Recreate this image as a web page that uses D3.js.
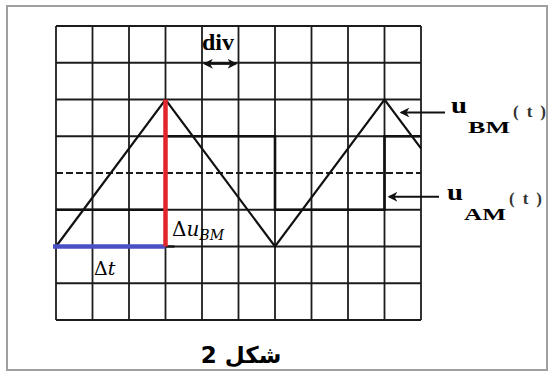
<!DOCTYPE html>
<html>
<head>
<meta charset="utf-8">
<script src="https://d3js.org/d3.v7.min.js"></script>
<style>
  body { margin: 0; background: #fff; }
  .grid line { stroke: #1c1c1c; stroke-width: 1.8px; }
  .wave { fill: none; stroke: #111; stroke-width: 2.2px; }
</style>
</head>
<body>
<svg width="553" height="373"></svg>
<script>
// screen divisions (time across, voltage up, 0 = centre line)
const xDivs = d3.range(0, 11);
const yDivs = d3.range(-4, 5);

// u_BM(t) : triangle wave, corner points
const triT = [0, 3, 6, 9, 10];
const triU = [-2, 2, -2, 2, 0.67];

// u_AM(t) : square wave, value held after each time
const sqT = [0, 3, 6, 9, 10];
const sqU = [-1, 1, -1, 1, 1];

// measurement marks
const dtT = [0, 3];      // blue  Δt
const duU = [2, -2];     // red   Δu_BM

var svg = d3.select("svg");

var x = d3.scaleLinear().domain([0, 10]).range([56, 421]);
var y = d3.scaleLinear().domain([-4, 4]).range([320, 26]);

// frame
svg.append("rect")
  .attr("x", 7).attr("y", 6).attr("width", 540).attr("height", 364)
  .attr("fill", "none").attr("stroke", "#a0a0a0").attr("stroke-width", 2);

// grid
var grid = svg.append("g").attr("class", "grid");
grid.selectAll(".v").data(xDivs).enter().append("line")
  .attr("x1", d => x(d)).attr("x2", d => x(d))
  .attr("y1", y(4)).attr("y2", y(-4));
grid.selectAll(".h").data(yDivs.filter(d => d !== 0)).enter().append("line")
  .attr("x1", x(0)).attr("x2", x(10))
  .attr("y1", d => y(d)).attr("y2", d => y(d));
// dashed centre line
grid.append("line")
  .attr("x1", x(0)).attr("x2", x(10))
  .attr("y1", y(0)).attr("y2", y(0))
  .style("stroke-dasharray", "7,3");

// waves
var tri = triT.map((t, i) => [t, triU[i]]);
svg.append("path").attr("class", "wave")
  .attr("d", d3.line().x(d => x(d[0])).y(d => y(d[1]))(tri));

var sq = sqT.map((t, i) => [t, sqU[i]]);
svg.append("path").attr("class", "wave").style("stroke-width", "2.6px")
  .attr("d", d3.line().curve(d3.curveStepAfter).x(d => x(d[0])).y(d => y(d[1]))(sq));

// Δt (blue) and Δu (red)
svg.append("line")
  .attr("x1", x(dtT[1])).attr("x2", x(dtT[1]) + 9)
  .attr("y1", y(duU[1])).attr("y2", y(duU[1]))
  .attr("stroke", "#111").attr("stroke-width", 2.2);
svg.append("line")
  .attr("x1", x(dtT[0]) - 3).attr("x2", x(dtT[1]))
  .attr("y1", y(duU[1])).attr("y2", y(duU[1]))
  .attr("stroke", "#4a4fc4").attr("stroke-width", 4.5);
svg.append("line")
  .attr("x1", x(dtT[1])).attr("x2", x(dtT[1]))
  .attr("y1", y(duU[0])).attr("y2", y(duU[1]))
  .attr("stroke", "#e0262c").attr("stroke-width", 4.5);

// arrow heads
var defs = svg.append("defs");
defs.append("marker").attr("id", "ah")
  .attr("viewBox", "0 0 10 10").attr("refX", 8).attr("refY", 5)
  .attr("markerWidth", 4.5).attr("markerHeight", 4.5).attr("orient", "auto-start-reverse")
  .append("path").attr("d", "M10,5 L0,0 L3,5 L0,10 Z").attr("fill", "#111");

function arrow(x1, x2, yy, both) {
  var l = svg.append("line")
    .attr("x1", x1).attr("x2", x2).attr("y1", yy).attr("y2", yy)
    .attr("stroke", "#111").attr("stroke-width", 2.2)
    .attr("marker-start", "url(#ah)");
  if (both) l.attr("marker-end", "url(#ah)");
}

// "div" label
svg.append("text").attr("x", 218).attr("y", 50)
  .attr("text-anchor", "middle")
  .style("font-family", "'Liberation Serif', serif").style("font-weight", "bold")
  .style("font-size", "24px").text("div");
arrow(x(4) + 3, x(5) - 3, y(3) + 1, true);

// Δ labels
var math = "'DejaVu Serif', 'Liberation Serif', serif";
var du = svg.append("text").attr("x", 172).attr("y", 236)
  .style("font-family", math).style("font-size", "20px");
du.append("tspan").text("Δ");
du.append("tspan").style("font-style", "italic").text("u");
du.append("tspan").attr("dy", 4).style("font-style", "italic").style("font-size", "14px").text("BM");

svg.append("text").attr("x", 94).attr("y", 275)
  .style("font-family", math).style("font-size", "19px")
  .html("Δ<tspan font-style='italic'>t</tspan>");

// curve names
function label(xx, yy, sub) {
  var t = svg.append("text").attr("x", xx).attr("y", yy)
    .style("font-family", "'Liberation Serif', serif").style("font-weight", "bold");
  t.append("tspan").attr("textLength", 16).attr("lengthAdjust", "spacingAndGlyphs")
    .style("font-size", "24px").text("u");
  t.append("tspan").attr("x", xx + 17).attr("dy", 20)
    .attr("textLength", 42).attr("lengthAdjust", "spacingAndGlyphs")
    .style("font-size", "17px").text(sub);
  t.append("tspan").attr("x", xx + 62).attr("dy", -16)
    .attr("textLength", 33).attr("lengthAdjust", "spacing")
    .style("font-size", "17px").style("fill", "#333").text("(t)");
}
arrow(x(9) + 17, 445, y(2) + 13);
label(451, 113, "BM");
arrow(x(9) + 5, 439, y(-1) - 13);
label(447, 200, "AM");

// caption
svg.append("text").attr("x", 241).attr("y", 363)
  .attr("text-anchor", "middle").attr("direction", "rtl")
  .style("font-family", "'DejaVu Sans', sans-serif").style("font-weight", "bold")
  .style("font-size", "23px").text("شكل 2");
</script>
</body>
</html>
